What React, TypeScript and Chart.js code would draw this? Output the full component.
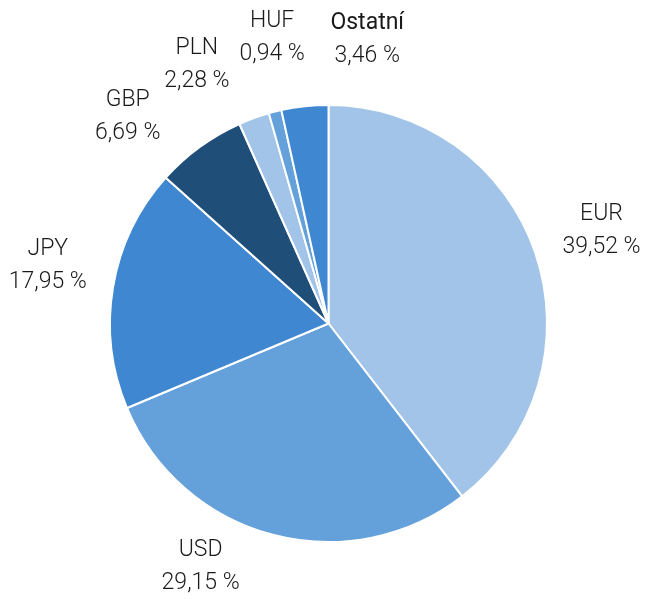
import React, { useEffect, useRef } from "react";
import { Chart, registerables } from "chart.js";

Chart.register(...registerables);

const categories = ["EUR", "USD", "JPY", "GBP", "PLN", "HUF", "Ostatní"];
const shares = [39.52, 29.15, 17.95, 6.69, 2.28, 0.94, 3.46];
const valueLabels = ["39,52 %", "29,15 %", "17,95 %", "6,69 %", "2,28 %", "0,94 %", "3,46 %"];
const sliceColors = ["#A1C4E8", "#64A0DA", "#3F87D0", "#1F4E79", "#A1C4E8", "#64A0DA", "#3F87D0"];
// label placement tweaks (degrees of angular nudge, extra radius)
const labelNudgeDeg = [0, 13, 2, -8, -7, 3, 14];
const labelRadius = [70, 56, 68, 70, 72, 73, 68];
const boldLabel = [false, false, false, false, false, false, true];

const labelPlugin = {
  id: "outerLabels",
  afterDraw(chart: any) {
    const ctx = chart.ctx;
    const meta = chart.getDatasetMeta(0);
    ctx.save();
    ctx.fillStyle = "#1a1a1a";
    ctx.textAlign = "center";
    ctx.textBaseline = "middle";
    meta.data.forEach((arc: any, i: number) => {
      const p = arc.getProps(["x", "y", "startAngle", "endAngle", "outerRadius"], true);
      const mid = (p.startAngle + p.endAngle) / 2 + (labelNudgeDeg[i] * Math.PI) / 180;
      const r = p.outerRadius + labelRadius[i];
      const x = p.x + Math.cos(mid) * r;
      const y = p.y + Math.sin(mid) * r;
      ctx.font = (boldLabel[i] ? "400 " : "300 ") + "23px Roboto, 'Liberation Sans', sans-serif";
      ctx.fillText(categories[i], x, y - 16.5);
      ctx.font = "300 23px Roboto, 'Liberation Sans', sans-serif";
      ctx.fillText(valueLabels[i], x, y + 16.5);
    });
    ctx.restore();
  },
};

export default function App() {
  const ref = useRef<HTMLCanvasElement>(null);
  useEffect(() => {
    if (!ref.current) return;
    const chart = new Chart(ref.current, {
      type: "pie",
      data: {
        labels: categories,
        datasets: [
          {
            data: shares,
            backgroundColor: sliceColors,
            borderColor: "#ffffff",
            borderWidth: 2,
          },
        ],
      },
      options: {
        responsive: false,
        animation: false,
        layout: { padding: { left: 109, right: 98, top: 104, bottom: 56 } },
        plugins: {
          legend: { display: false },
          tooltip: { enabled: false },
        },
      },
      plugins: [labelPlugin],
    });
    return () => chart.destroy();
  }, []);
  return (
    <div style={{ position: "absolute", left: 0, top: 0, width: 646, height: 599, background: "#fff" }}>
      <canvas ref={ref} width={646} height={599} style={{ width: 646, height: 599 }} />
    </div>
  );
}
